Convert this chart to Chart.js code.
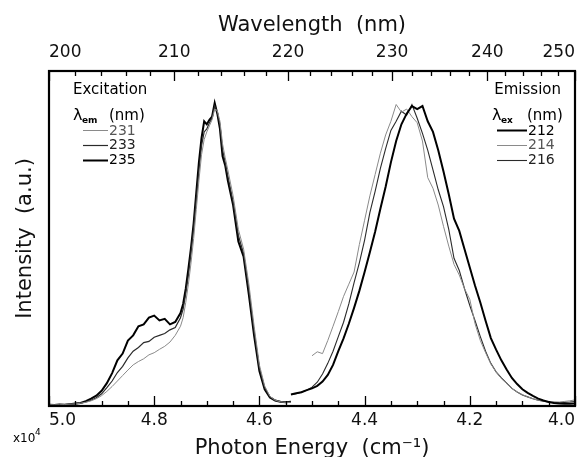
<!DOCTYPE html>
<html>
<head>
<meta charset="utf-8">
<script src="https://cdn.jsdelivr.net/npm/chart.js@4/dist/chart.umd.min.js"></script>
<style>
  html, body { margin: 0; padding: 0; background: #fff; }
  #wrap { width: 584px; height: 457px; }
</style>
</head>
<body>
<div id="wrap"><canvas id="c" width="584" height="457"></canvas></div>
<script>
// Photon energy in units of 10^4 cm^-1
const excitationEnergy = [5.00,4.99,4.98,4.97,4.96,4.95,4.94,4.93,4.92,4.91,4.90,4.89,4.88,4.87,4.86,4.85,4.84,4.83,4.82,4.81,4.80,4.79,4.78,4.77,4.76,4.75,
  4.745,4.74,4.735,4.73,4.725,4.72,4.715,4.71,4.705,4.70,4.695,4.69,4.685,4.68,4.675,4.67,4.665,4.66,
  4.65,4.64,4.63,4.62,4.61,4.60,4.59,4.58,4.57,4.56,4.55,4.54];

// Excitation spectra, detected at 231 / 233 / 235 nm
const excitation231 = [0.004,0.004,0.004,0.005,0.006,0.007,0.009,0.012,0.017,0.024,0.034,0.048,0.064,0.082,0.100,0.118,0.135,0.146,0.155,0.168,0.175,0.186,0.196,0.210,0.232,0.262,
  0.290,0.340,0.400,0.470,0.550,0.645,0.740,0.825,0.875,0.900,0.920,0.940,0.975,0.970,0.935,0.860,0.815,0.775,
  0.690,0.580,0.515,0.400,0.262,0.135,0.066,0.032,0.019,0.014,0.012,0.012];
const excitation233 = [0.004,0.004,0.004,0.005,0.006,0.007,0.009,0.013,0.019,0.027,0.040,0.060,0.082,0.110,0.130,0.158,0.180,0.192,0.208,0.212,0.226,0.232,0.238,0.250,0.258,0.290,
  0.318,0.370,0.430,0.505,0.585,0.680,0.775,0.855,0.900,0.910,0.930,0.945,0.985,0.965,0.925,0.840,0.800,0.755,
  0.670,0.560,0.500,0.380,0.245,0.125,0.060,0.030,0.018,0.014,0.012,0.012];
const excitation235 = [0.004,0.003,0.005,0.004,0.006,0.008,0.010,0.016,0.024,0.034,0.050,0.075,0.108,0.150,0.172,0.215,0.232,0.262,0.268,0.290,0.297,0.281,0.286,0.268,0.276,0.305,
  0.335,0.385,0.450,0.520,0.600,0.700,0.800,0.880,0.935,0.925,0.940,0.950,0.995,0.960,0.910,0.820,0.790,0.740,
  0.660,0.540,0.490,0.365,0.230,0.115,0.055,0.028,0.018,0.014,0.012,0.014];

const emissionEnergy = [4.54,4.53,4.52,4.51,4.50,4.49,4.48,4.47,4.46,4.45,4.44,4.43,4.42,4.41,4.40,4.39,4.38,4.37,4.36,4.35,4.34,4.33,4.32,4.31,4.30,
  4.29,4.28,4.27,4.26,4.25,4.24,4.23,4.22,4.21,4.20,4.19,4.18,4.17,4.16,4.15,4.14,4.13,4.12,4.11,4.10,4.09,4.08,4.07,4.06,4.05,4.04,4.03,4.02,4.01,4.00];

// Emission spectra, excited at 212 / 214 / 216 nm
const emission212 = [0.038,0.042,0.045,0.052,0.058,0.066,0.080,0.102,0.135,0.180,0.222,0.270,0.322,0.378,0.440,0.505,0.572,0.648,0.720,0.800,0.870,0.925,0.960,0.985,0.975,
  0.985,0.935,0.900,0.840,0.770,0.695,0.615,0.575,0.515,0.455,0.395,0.340,0.280,0.223,0.185,0.150,0.120,0.092,0.072,0.055,0.043,0.033,0.024,0.018,0.013,0.010,0.008,0.007,0.007,0.008];
const emission214 = [null,null,null,null,0.165,0.178,0.172,0.215,0.262,0.310,0.360,0.400,0.440,0.530,0.610,0.690,0.760,0.830,0.890,0.935,0.990,0.965,0.975,0.950,0.930,
  0.870,0.750,0.715,0.660,0.590,0.525,0.465,0.430,0.385,0.350,0.270,0.215,0.175,0.138,0.112,0.090,0.074,0.058,0.046,0.037,0.030,0.024,0.019,0.016,0.014,0.013,0.013,0.015,0.017,0.020];
const emission216 = [0.038,0.040,0.046,0.052,0.062,0.078,0.105,0.140,0.180,0.228,0.275,0.335,0.405,0.470,0.545,0.635,0.705,0.780,0.845,0.905,0.935,0.968,0.955,0.990,0.945,
  0.895,0.840,0.775,0.710,0.655,0.580,0.485,0.445,0.385,0.330,0.280,0.228,0.180,0.140,0.112,0.092,0.075,0.058,0.046,0.036,0.030,0.024,0.019,0.016,0.013,0.012,0.011,0.012,0.013,0.015];

const energyTicks = [4.0, 4.2, 4.4, 4.6, 4.8, 5.0];
const wavelengthTicks = [250, 240, 230, 220, 210, 200];
const excitationLabels = ['231', '233', '235'];
const emissionLabels = ['212', '214', '216'];

const FONT = '"DejaVu Sans", sans-serif';
const pts = (xs, ys) => xs.map((e, i) => ({ x: e, y: ys[i] }));

const line = (label, xs, ys, color, width, group) => ({
  label, group,
  data: pts(xs, ys),
  borderColor: color, borderWidth: width,
  pointRadius: 0, tension: 0, fill: false, spanGaps: false,
  xAxisID: 'x', yAxisID: 'y'
});

const datasets = [
  line(excitationLabels[0], excitationEnergy, excitation231, '#8a8a8a', 1, 'ex'),
  line(excitationLabels[1], excitationEnergy, excitation233, '#2a2a2a', 1.2, 'ex'),
  line(excitationLabels[2], excitationEnergy, excitation235, '#000', 2, 'ex'),
  line(emissionLabels[0], emissionEnergy, emission212, '#000', 2, 'em'),
  line(emissionLabels[1], emissionEnergy, emission214, '#8a8a8a', 1, 'em'),
  line(emissionLabels[2], emissionEnergy, emission216, '#2a2a2a', 1.1, 'em')
];

// Inward tick marks, frame and the two in-plot keys
const decor = {
  id: 'decor',
  afterDraw(chart) {
    const { ctx, chartArea: a, scales } = chart;
    const x = scales.x, x2 = scales.x2;
    ctx.save();
    ctx.strokeStyle = '#000';
    ctx.lineWidth = 1.3;
    ctx.beginPath();
    for (let k = 0; k <= 20; k++) {
      const e = 5.0 - k * 0.05;
      const px = Math.round(x.getPixelForValue(e)) + 0.5;
      const len = (k % 4 === 0) ? 10 : 5;
      ctx.moveTo(px, a.bottom); ctx.lineTo(px, a.bottom - len);
    }
    for (let w = 200; w <= 250; w += 2) {
      const px = Math.round(x2.getPixelForValue(1000 / w)) + 0.5;
      const len = (w % 10 === 0) ? 10 : 5;
      ctx.moveTo(px, a.top); ctx.lineTo(px, a.top + len);
    }
    ctx.stroke();

    ctx.lineWidth = 2.2;
    ctx.strokeRect(a.left, a.top, a.right - a.left, a.bottom - a.top);

    // multiplier under the energy axis
    ctx.fillStyle = '#000';
    ctx.textBaseline = 'middle';
    ctx.textAlign = 'left';
    ctx.font = '12px ' + FONT;
    ctx.fillText('x10', 13, 439);
    ctx.font = '9px ' + FONT;
    ctx.fillText('4', 35, 433);

    const ds = chart.data.datasets;
    const key = (title, sub, titleX, titleAlign, lamX, nmX, lineX0, lineX1, labelX, group) => {
      ctx.fillStyle = '#000';
      ctx.textBaseline = 'middle';
      ctx.font = '15px ' + FONT;
      ctx.textAlign = titleAlign;
      ctx.fillText(title, titleX, 90);
      ctx.textAlign = 'left';
      ctx.font = '16px ' + FONT;
      ctx.fillText('λ', lamX, 116);
      ctx.font = 'bold 9px ' + FONT;
      ctx.fillText(sub, lamX + 9, 121);
      ctx.font = '15px ' + FONT;
      ctx.fillText('(nm)', nmX, 116);
      const items = ds.filter(d => d.group === group);
      items.forEach((d, i) => {
        const y = 130 + i * 14.8;
        ctx.strokeStyle = d.borderColor;
        ctx.lineWidth = d.borderWidth;
        ctx.beginPath();
        ctx.moveTo(lineX0, Math.round(y) + 0.5);
        ctx.lineTo(lineX1, Math.round(y) + 0.5);
        ctx.stroke();
        ctx.fillStyle = d.borderWidth >= 2 ? '#000' : (d.borderColor === '#8a8a8a' ? '#555' : '#222');
        ctx.font = '14px ' + FONT;
        ctx.fillText(d.label, labelX, y + 1);
      });
    };
    key('Excitation', 'em', 73, 'left', 73, 109, 83, 108, 109, 'ex');
    key('Emission', 'ex', 561, 'right', 492, 527, 497, 527, 528, 'em');
    ctx.restore();
  }
};

const tickFont = { family: FONT, size: 17 };
const titleFont = { family: FONT, size: 21, lineHeight: 1 };
const noGrid = { display: false, drawTicks: false, tickLength: 0 };

new Chart(document.getElementById('c'), {
  type: 'line',
  data: { datasets },
  plugins: [decor],
  options: {
    responsive: false,
    animation: false,
    events: [],
    layout: { padding: { left: 0, right: 9, top: 0, bottom: 0 } },
    plugins: { legend: { display: false }, tooltip: { enabled: false } },
    scales: {
      x: {
        type: 'linear', position: 'bottom', min: 4.0, max: 5.0, reverse: true,
        afterBuildTicks: s => { s.ticks = energyTicks.map(v => ({ value: v })); },
        ticks: { callback: v => v.toFixed(1), font: tickFont, color: '#111', padding: 4, maxRotation: 0, autoSkip: false, align: 'inner' },
        grid: noGrid, border: { display: false },
        title: { display: true, text: 'Photon Energy  (cm⁻¹)', font: { family: FONT, size: 21, lineHeight: 0.8 }, color: '#111', padding: { top: 0, bottom: 0 } },
        afterFit: s => { s.height = 51; }
      },
      x2: {
        type: 'linear', position: 'top', min: 4.0, max: 5.0, reverse: true,
        afterBuildTicks: s => { s.ticks = wavelengthTicks.map(w => ({ value: 1000 / w })); },
        ticks: { callback: v => String(Math.round(1000 / v)), font: tickFont, color: '#111', padding: 8, maxRotation: 0, autoSkip: false, align: 'inner' },
        grid: noGrid, border: { display: false },
        title: { display: true, text: 'Wavelength  (nm)', font: titleFont, color: '#111', padding: { top: 15, bottom: 0 } },
        afterFit: s => { s.height = 71; }
      },
      y: {
        type: 'linear', position: 'left', min: 0, max: 1.1,
        ticks: { display: false }, grid: noGrid, border: { display: false },
        title: { display: true, text: 'Intensity  (a.u.)', font: titleFont, color: '#111', padding: { top: 15, bottom: 0 } },
        afterFit: s => { s.width = 49; }
      }
    }
  }
});
</script>
</body>
</html>
